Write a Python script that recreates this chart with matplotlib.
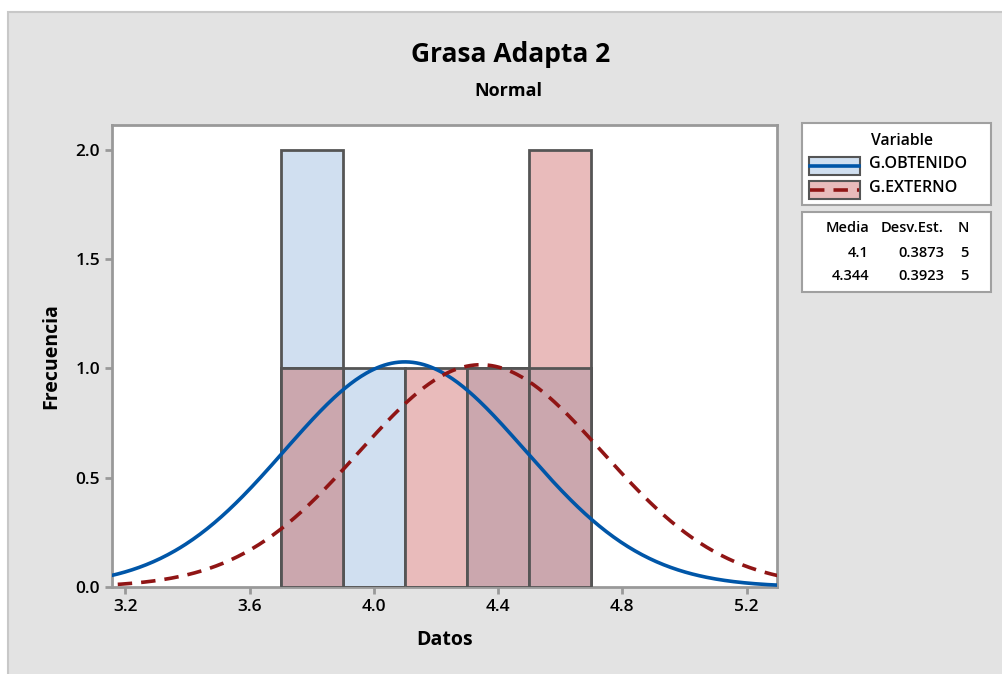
import numpy as np
import matplotlib.pyplot as plt
from matplotlib.patches import Rectangle
from matplotlib.lines import Line2D

plt.rcParams['font.family'] = ['Open Sans', 'DejaVu Sans']

# data
bin_edges = [3.7, 3.9, 4.1, 4.3, 4.5, 4.7]
obtenido_counts = [2, 1, 0, 1, 1]
externo_counts = [1, 0, 1, 1, 2]
series_names = ['G.OBTENIDO', 'G.EXTERNO']
means = [4.1, 4.344]
stdevs = [0.3873, 0.3923]
n_obs = [5, 5]
xticks = [3.2, 3.6, 4.0, 4.4, 4.8, 5.2]
yticks = [0.0, 0.5, 1.0, 1.5, 2.0]

blue_fill = '#d0dff0'
red_fill = '#e9bbbb'
mix_fill = '#cba7ae'
edge = '#555555'
blue_line = '#0056a8'
red_line = '#901515'
grid_gray = '#999999'

W, H = 1002, 674
fig = plt.figure(figsize=(W / 100, H / 100), dpi=100, facecolor='white')

def fx(px):
    return px / W

def fy(py):
    return 1 - py / H

# gray panel background
fig.patches.append(Rectangle((fx(8), -0.1), 1.2, fy(12) + 0.1, transform=fig.transFigure,
                             facecolor='#e3e3e3', edgecolor='#c8c8c8', lw=1.5, zorder=-10))

ax = fig.add_axes([fx(112), fy(587), fx(777) - fx(112), fy(125) - fy(587)])
ax.set_zorder(1)
ax.set_facecolor('white')

lefts = np.array(bin_edges[:-1])
widths = np.diff(bin_edges)
ob = np.array(obtenido_counts)
ex = np.array(externo_counts)
both = np.minimum(ob, ex)

ax.bar(lefts, ob, width=widths, align='edge', color=blue_fill, edgecolor=edge, lw=2, zorder=2)
ax.bar(lefts, ex, width=widths, align='edge', color=red_fill, edgecolor=edge, lw=2, zorder=2)
ax.bar(lefts, both, width=widths, align='edge', color=mix_fill, edgecolor=edge, lw=2, zorder=3)

xs = np.linspace(3.1, 5.4, 400)
for m, s, n, col, ls in zip(means, stdevs, n_obs, [blue_line, red_line], ['-', (0, (4, 2.5))]):
    scale = n * widths[0]
    ys = scale * np.exp(-0.5 * ((xs - m) / s) ** 2) / (s * np.sqrt(2 * np.pi))
    ax.plot(xs, ys, color=col, lw=2.6, ls=ls, zorder=4)

ax.set_xlim(3.157, 5.298)
ax.set_ylim(0, 2.114)
ax.set_xticks(xticks)
ax.set_xticklabels([f'{t:.1f}' for t in xticks], fontweight='semibold')
ax.set_yticks(yticks)
ax.set_yticklabels([f'{t:.1f}' for t in yticks], fontweight='semibold')
for sp in ax.spines.values():
    sp.set_color(grid_gray)
    sp.set_linewidth(2)
ax.tick_params(colors=grid_gray, width=2, length=5, labelcolor='black', labelsize=12.5)

ax.set_xlabel('Datos', fontsize=14, fontweight='bold', labelpad=11)
ax.set_ylabel('Frecuencia', fontsize=14, fontweight='bold', labelpad=10)

fig.text(fx(511), fy(55), 'Grasa Adapta 2', ha='center', va='center', fontsize=19, fontweight='bold')
fig.text(fx(508), fy(91), 'Normal', ha='center', va='center', fontsize=13, fontweight='bold')

# legend box
fig.patches.append(Rectangle((fx(802), fy(205)), fx(991) - fx(802), fy(123) - fy(205),
                             transform=fig.transFigure, facecolor='white', edgecolor='#a0a0a0', lw=1.5))
fig.text(fx(902), fy(141), 'Variable', ha='center', va='center', fontsize=11.3, fontweight='semibold')
for i, (name, fill, col, ls) in enumerate(zip(series_names, [blue_fill, red_fill], [blue_line, red_line],
                                              ['-', (0, (4, 2.5))])):
    y0 = 157 + i * 24
    fig.patches.append(Rectangle((fx(809), fy(y0 + 18)), fx(860) - fx(809), fy(y0) - fy(y0 + 18),
                                 transform=fig.transFigure, facecolor=fill, edgecolor=edge, lw=1.5))
    fig.lines.append(Line2D([fx(810), fx(859)], [fy(y0 + 9)] * 2, transform=fig.transFigure,
                            color=col, lw=2.6, ls=ls))
    fig.text(fx(869), fy(y0 + 7), name, ha='left', va='center', fontsize=11.5, fontweight='semibold')

# stats table
fig.patches.append(Rectangle((fx(802), fy(292)), fx(991) - fx(802), fy(212) - fy(292),
                             transform=fig.transFigure, facecolor='white', edgecolor='#a0a0a0', lw=1.5))
headers = ['Media', 'Desv.Est.', 'N']
col_right = [869, 944, 969]
for h, xr in zip(headers, col_right):
    fig.text(fx(xr), fy(228), h, ha='right', va='center', fontsize=10.5, fontweight='semibold')
for i, (m, s, n) in enumerate(zip(means, stdevs, n_obs)):
    yy = 253 + i * 23.5
    for val, xr in zip([f'{m:g}', f'{s:.4f}', f'{n}'], col_right):
        fig.text(fx(xr), fy(yy), val, ha='right', va='center', fontsize=10.5, fontweight='semibold')

fig.savefig('out.png', dpi=100, facecolor=fig.get_facecolor())
